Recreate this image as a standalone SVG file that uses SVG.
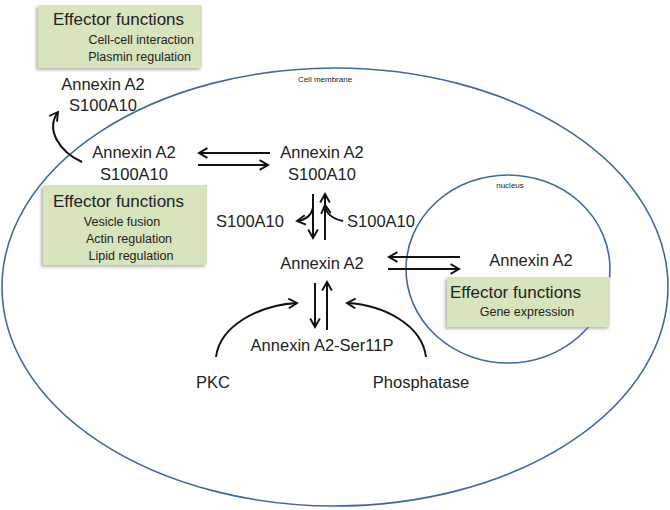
<svg xmlns="http://www.w3.org/2000/svg" width="670" height="510" viewBox="0 0 670 510">
<defs>
<marker id="ah" viewBox="0 0 10 10" refX="8" refY="5" markerWidth="6" markerHeight="6" orient="auto-start-reverse" markerUnits="strokeWidth">
<path d="M1,1 L8,5 L1,9" fill="none" stroke="#111" stroke-width="1.6"/>
</marker>
<filter id="sh" x="-10%" y="-10%" width="120%" height="130%">
<feDropShadow dx="-2" dy="2" stdDeviation="1.5" flood-color="#888" flood-opacity="0.6"/>
</filter>
</defs>
<style>
text{font-family:"Liberation Sans",Arial,sans-serif;fill:#222}
.n{font-size:16.5px;text-anchor:middle}
.h{font-size:17px}
.s{font-size:12.5px}
.t{font-size:8px}
.box{fill:#d8e4bc;filter:url(#sh)}
.mem{fill:none;stroke:#3f6a9c;stroke-width:1.6}
.c{fill:none;stroke:#111;stroke-width:2;marker-end:url(#ah)}
</style>
<rect width="670" height="510" fill="#fff"/>
<g id="cell-membrane">
<ellipse class="mem" cx="335" cy="287" rx="333" ry="219"/>
<text class="t" x="325" y="82" text-anchor="middle">Cell membrane</text>
</g>
<g id="nucleus">
<ellipse class="mem" cx="508" cy="269" rx="102" ry="94"/>
<text class="t" x="510" y="188" text-anchor="middle">nucleus</text>
</g>
<g id="effector-top">
<rect class="box" x="38" y="5" width="164" height="63"/>
<text class="h" x="53" y="25">Effector functions</text>
<text class="s" x="194" y="44" text-anchor="end">Cell-cell interaction</text>
<text class="s" x="191" y="61" text-anchor="end">Plasmin regulation</text>
</g>
<g id="complex-outside">
<text class="n" x="103" y="90">Annexin A2</text>
<text class="n" x="103" y="111">S100A10</text>
</g>
<g id="complex-membrane">
<text class="n" x="134" y="158">Annexin A2</text>
<text class="n" x="134" y="180">S100A10</text>
</g>
<g id="effector-mid">
<rect class="box" x="43" y="185" width="164" height="80"/>
<text class="h" x="53" y="207">Effector functions</text>
<text class="s" x="122" y="226" text-anchor="middle">Vesicle fusion</text>
<text class="s" x="129" y="243" text-anchor="middle">Actin regulation</text>
<text class="s" x="131" y="260" text-anchor="middle">Lipid regulation</text>
</g>
<g id="complex-cyto">
<text class="n" x="322" y="158">Annexin A2</text>
<text class="n" x="322" y="180">S100A10</text>
</g>
<g id="s100-left"><text class="n" x="250" y="227">S100A10</text></g>
<g id="s100-right"><text class="n" x="381" y="227">S100A10</text></g>
<g id="annexin-cyto"><text class="n" x="322" y="269">Annexin A2</text></g>
<g id="annexin-nuc"><text class="n" x="531" y="266">Annexin A2</text></g>
<g id="effector-nuc">
<rect class="box" x="447" y="277" width="163" height="50"/>
<text class="h" x="450" y="298">Effector functions</text>
<text class="s" x="527" y="316" text-anchor="middle">Gene expression</text>
</g>
<g id="ser11p"><text class="n" x="322" y="351">Annexin A2-Ser11P</text></g>
<g id="pkc"><text class="n" x="213" y="388">PKC</text></g>
<g id="phosphatase"><text class="n" x="421" y="388">Phosphatase</text></g>
<g id="connectors">
<path class="c" d="M82,162 C60,152 45,130 58,112"/>
<path class="c" d="M270,153 L199,153"/>
<path class="c" d="M198,165 L268,165"/>
<path class="c" d="M313,194 L313,238"/>
<path class="c" d="M313,208 C311,216 305,220 297,221"/>
<path class="c" d="M325,240 L325,194"/>
<path class="c" d="M343,221 C333,219 326,214 325,205"/>
<path class="c" d="M460,257 L389,257"/>
<path class="c" d="M388,269 L459,269"/>
<path class="c" d="M315,283 L315,327"/>
<path class="c" d="M327,330 L327,282"/>
<path class="c" d="M216,357 C220,325 260,305 297,303"/>
<path class="c" d="M426,357 C422,325 384,305 347,303"/>
</g>
</svg>
